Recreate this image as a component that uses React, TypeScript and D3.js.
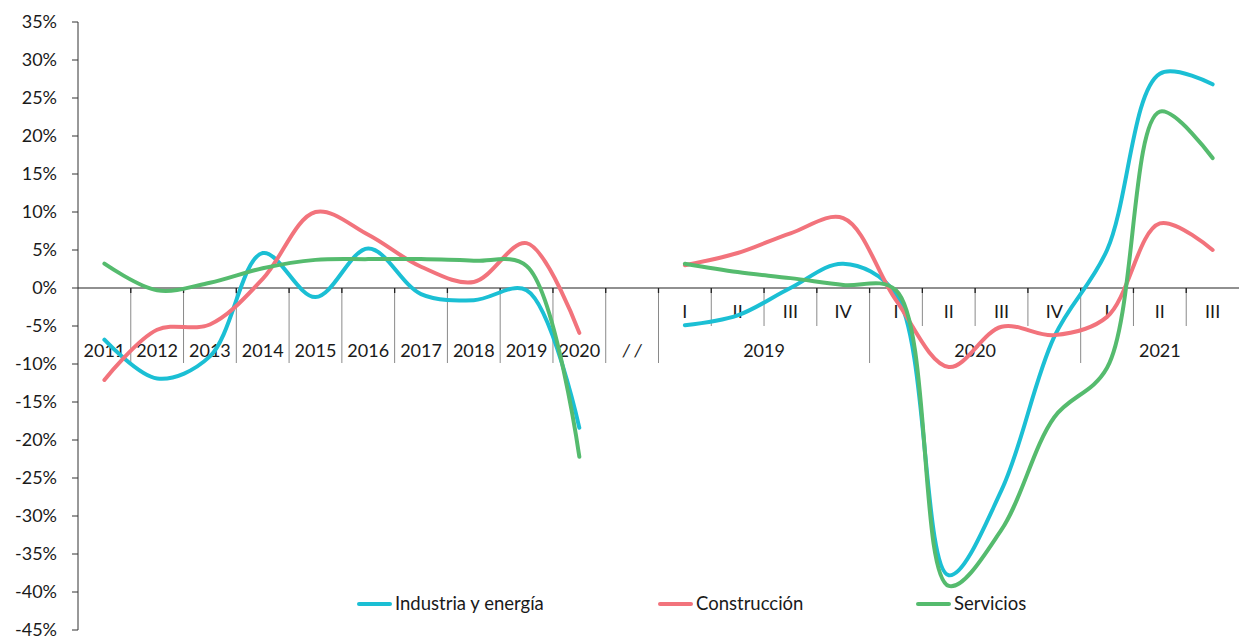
import React from "react";
import * as d3 from "d3";

const annualLabels = ["2011", "2012", "2013", "2014", "2015", "2016", "2017", "2018", "2019", "2020"];
const gapLabel = "/ /";
const quarterLabels = ["I", "II", "III", "IV", "I", "II", "III", "IV", "I", "II", "III"];
const quarterYears = ["2019", "2020", "2021"];
const quartersPerYear = [4, 4, 3];
const yTicks = [35, 30, 25, 20, 15, 10, 5, 0, -5, -10, -15, -20, -25, -30, -35, -40, -45];

const industriaAnnual = [-6.8, -11.9, -9.0, 4.6, -1.2, 5.2, -0.8, -1.6, -0.3, -18.4];
const industriaQuarterly = [-4.9, -3.6, 0.0, 3.2, -0.8, -37.8, -26.6, -6.4, 5.0, 28.2, 26.8];
const construccionAnnual = [-12.1, -5.5, -4.8, 1.2, 10.0, 7.0, 2.8, 0.8, 5.9, -5.9];
const construccionQuarterly = [3.0, 4.6, 7.2, 9.2, -1.6, -10.4, -5.1, -6.2, -3.8, 8.5, 5.0];
const serviciosAnnual = [3.2, -0.3, 0.7, 2.6, 3.7, 3.8, 3.8, 3.6, 2.9, -22.2];
const serviciosQuarterly = [3.2, 2.1, 1.3, 0.4, -0.3, -39.2, -31.8, -17.0, -10.5, 23.2, 17.1];

const seriesNames = ["Industria y energía", "Construcción", "Servicios"];
const seriesColors = ["#1bbfd4", "#f2737c", "#55bb6e"];

const W = 1239;
const H = 639;
const FONT = "Lato, 'Open Sans', sans-serif";

export default function App() {
  const categories = [
    ...annualLabels.map((l, i) => `a${i}`),
    "gap",
    ...quarterLabels.map((l, i) => `q${i}`),
  ];
  const x = d3.scaleBand<string>().domain(categories).range([78, 1239]).padding(0);
  const bw = x.bandwidth();
  const cx = (k: string) => (x(k) as number) + bw / 2;
  const y = d3.scaleLinear().domain([-45, 35]).range([630, 22]);
  const xAxisY = y(0);

  const line = d3
    .line<[number, number]>()
    .x((d) => d[0])
    .y((d) => y(d[1]))
    .curve(d3.curveCatmullRom.alpha(0.5));

  const series = [
    [industriaAnnual, industriaQuarterly],
    [construccionAnnual, construccionQuarterly],
    [serviciosAnnual, serviciosQuarterly],
  ];

  const nA = annualLabels.length;
  const boundaries: { x: number; long: boolean }[] = [];
  for (let i = 1; i < categories.length; i++) {
    const bx = x(categories[i]) as number;
    let long = true;
    if (i > nA + 1) {
      const qi = i - (nA + 1);
      let acc = 0;
      long = false;
      for (const q of quartersPerYear) {
        acc += q;
        if (qi === acc) long = true;
      }
    }
    boundaries.push({ x: bx, long });
  }

  let qStart = 0;
  const yearLabelPos = quarterYears.map((yr, i) => {
    const first = `q${qStart}`;
    const last = `q${qStart + quartersPerYear[i] - 1}`;
    qStart += quartersPerYear[i];
    const x0 = x(first) as number;
    const x1 = (x(last) as number) + bw;
    return { yr, x: (x0 + x1) / 2 };
  });

  const legendItems = [
    { x: 357, name: seriesNames[0], color: seriesColors[0] },
    { x: 658, name: seriesNames[1], color: seriesColors[1] },
    { x: 916, name: seriesNames[2], color: seriesColors[2] },
  ];

  const txt = { fontFamily: FONT, fontSize: 18, fontWeight: 400, fill: "#1a1a1a" } as const;

  return (
    <svg width={W} height={H} style={{ position: "absolute", left: 0, top: 0, background: "#fff" }}>
      <rect x={0} y={0} width={W} height={H} fill="#fff" />
      <line x1={78} x2={78} y1={y(35)} y2={y(-45)} stroke="#333" strokeWidth={1} />
      {yTicks.map((t) => (
        <g key={t}>
          <line x1={72} x2={78} y1={y(t)} y2={y(t)} stroke="#333" strokeWidth={1} />
          <text x={57} y={y(t)} dy="0.35em" textAnchor="end" {...txt}>
            {`${t}%`}
          </text>
        </g>
      ))}
      {boundaries.map((b, i) => (
        <g key={i}>
          <line x1={b.x} x2={b.x} y1={xAxisY} y2={b.long ? 363 : 326} stroke="#8a8a8a" strokeWidth={1} />
          <line x1={b.x} x2={b.x} y1={xAxisY} y2={xAxisY + 5} stroke="#222" strokeWidth={1.3} />
        </g>
      ))}
      <line x1={78} x2={1239} y1={xAxisY} y2={xAxisY} stroke="#222" strokeWidth={1.2} />
      {annualLabels.map((l, i) => (
        <text key={l} x={cx(`a${i}`)} y={351} dy="0.35em" textAnchor="middle" {...txt}>
          {l}
        </text>
      ))}
      <text x={cx("gap")} y={351} dy="0.35em" textAnchor="middle" {...txt} fontStyle="italic">
        {gapLabel}
      </text>
      {quarterLabels.map((l, i) => (
        <text key={i} x={cx(`q${i}`)} y={312} dy="0.35em" textAnchor="middle" {...txt}>
          {l}
        </text>
      ))}
      {yearLabelPos.map((p) => (
        <text key={p.yr} x={p.x} y={351} dy="0.35em" textAnchor="middle" {...txt}>
          {p.yr}
        </text>
      ))}
      {series.map(([ann, qtr], si) => {
        const ptsA: [number, number][] = ann.map((v, i) => [cx(`a${i}`), v]);
        const ptsQ: [number, number][] = qtr.map((v, i) => [cx(`q${i}`), v]);
        return (
          <g key={si}>
            <path d={line(ptsA) || ""} fill="none" stroke={seriesColors[si]} strokeWidth={4} strokeLinecap="round" strokeLinejoin="round" />
            <path d={line(ptsQ) || ""} fill="none" stroke={seriesColors[si]} strokeWidth={4} strokeLinecap="round" strokeLinejoin="round" />
          </g>
        );
      })}
      {legendItems.map((it) => (
        <g key={it.name}>
          <line x1={it.x + 2} x2={it.x + 33} y1={604} y2={604} stroke={it.color} strokeWidth={4} strokeLinecap="round" />
          <text x={it.x + 38} y={604} dy="0.35em" {...txt} fontSize={18.5}>
            {it.name}
          </text>
        </g>
      ))}
    </svg>
  );
}
